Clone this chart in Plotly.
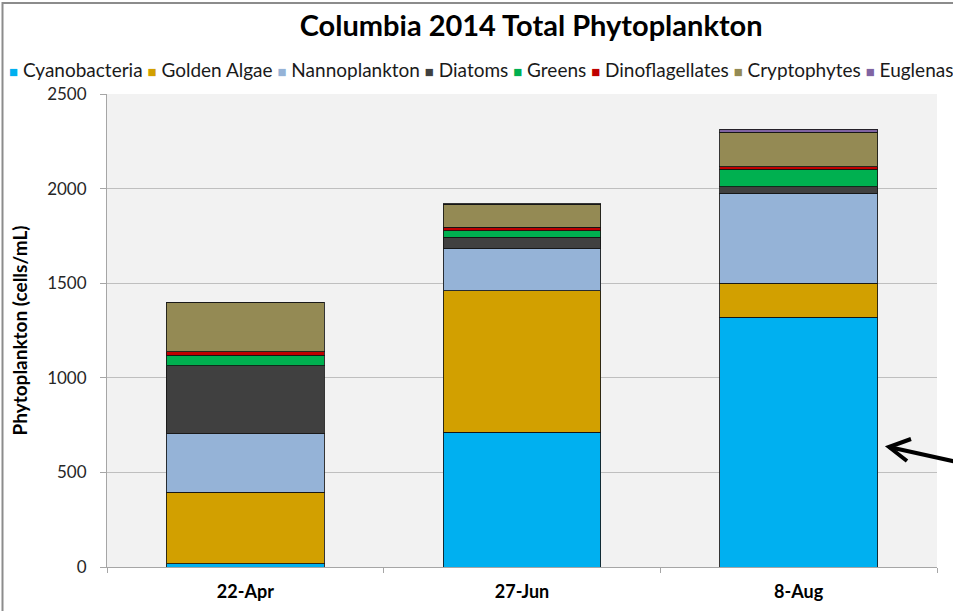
import plotly.graph_objects as go

dates = ["22-Apr", "27-Jun", "8-Aug"]
series_names = ["Cyanobacteria", "Golden Algae", "Nannoplankton", "Diatoms",
                "Greens", "Dinoflagellates", "Cryptophytes", "Euglenas"]
cyanobacteria = [18, 713, 1321]
golden_algae = [376, 746, 180]
nannoplankton = [310, 225, 474]
diatoms = [361, 58, 35]
greens = [55, 35, 93]
dinoflagellates = [18, 18, 13]
cryptophytes = [259, 122, 183]
euglenas = [0, 3, 14]
y_ticks = [0, 500, 1000, 1500, 2000, 2500]

series_values = [cyanobacteria, golden_algae, nannoplankton, diatoms,
                 greens, dinoflagellates, cryptophytes, euglenas]
colors = ["#00B0F0", "#D2A000", "#95B3D7", "#404040",
          "#00B050", "#C00000", "#948A54", "#8064A2"]

FONT = "Lato"
W, H = 953, 611
L, R, T, B = 107, 16, 94, 44
PW, PH = W - L - R, H - T - B


def px(x):
    return (x - L) / PW


def py(y):
    return (H - B - y) / PH


fig = go.Figure()
for name, vals, col in zip(series_names, series_values, colors):
    fig.add_trace(go.Bar(
        x=dates, y=vals, name=name,
        marker=dict(color=col, line=dict(color="rgba(20,20,20,0.85)", width=1)),
    ))

# custom legend row (flows off the right edge like the original)
legend_parts = []
for name, col in zip(series_names, colors):
    legend_parts.append(
        f'<span style="color:{col};font-size:15px">■</span> {name}')
legend_text = " ".join(legend_parts)

annotations = [dict(
    text=legend_text, x=px(7), y=py(69), xref="paper", yref="paper",
    xanchor="left", yanchor="middle", showarrow=False,
    font=dict(family=FONT, size=19, color="#1a1a1a"),
)]

shapes = [
    # chart border
    dict(type="rect", xref="paper", yref="paper",
         x0=px(2.5), y0=py(640), x1=px(980), y1=py(3),
         line=dict(color="#8c8c8c", width=2), fillcolor="rgba(0,0,0,0)",
         layer="below"),
    # arrow shaft
    dict(type="line", xref="paper", yref="paper",
         x0=px(889), y0=py(447), x1=px(975), y1=py(466),
         line=dict(color="black", width=4)),
    # arrow head
    dict(type="path", xref="paper", yref="paper",
         path=f"M {px(911)} {py(439)} L {px(889)} {py(447)} L {px(907)} {py(461)}",
         line=dict(color="black", width=4)),
]

fig.update_layout(
    width=W, height=H,
    barmode="stack", bargap=0.43,
    showlegend=False,
    paper_bgcolor="white", plot_bgcolor="#F2F2F2",
    margin=dict(l=L, r=R, t=T, b=B, pad=0, autoexpand=False),
    font=dict(family=FONT, color="#262626"),
    title=dict(text="<b>Columbia 2014 Total Phytoplankton</b>",
               x=487 / W, xanchor="center", xref="paper",
               y=1 - 26 / H, yanchor="middle", yref="container",
               font=dict(family=FONT, size=29, color="black")),
    annotations=annotations,
    shapes=shapes,
    xaxis=dict(
        type="category", showgrid=False, showline=True, linecolor="#a6a6a6",
        linewidth=1, ticks="outside", tickson="boundaries", ticklen=5,
        tickcolor="#a6a6a6", ticklabelstandoff=8, automargin=False,
        tickfont=dict(family=FONT, size=18, color="black", weight="bold"),
    ),
    yaxis=dict(
        range=[0, 2500], tickvals=y_ticks, showgrid=True, gridcolor="#BFBFBF",
        gridwidth=1, showline=True, linecolor="#a6a6a6", linewidth=1,
        ticks="outside", ticklen=6, tickcolor="#a6a6a6", zeroline=False,
        ticklabelstandoff=10, automargin=False,
        tickfont=dict(family=FONT, size=17, color="#262626"),
        title=dict(text="<b>Phytoplankton (cells/mL)</b>", standoff=14,
                   font=dict(family=FONT, size=19, color="black")),
    ),
)

fig.write_html("out.html", config={"displayModeBar": False},
               post_script="document.body.style.margin='0';")
